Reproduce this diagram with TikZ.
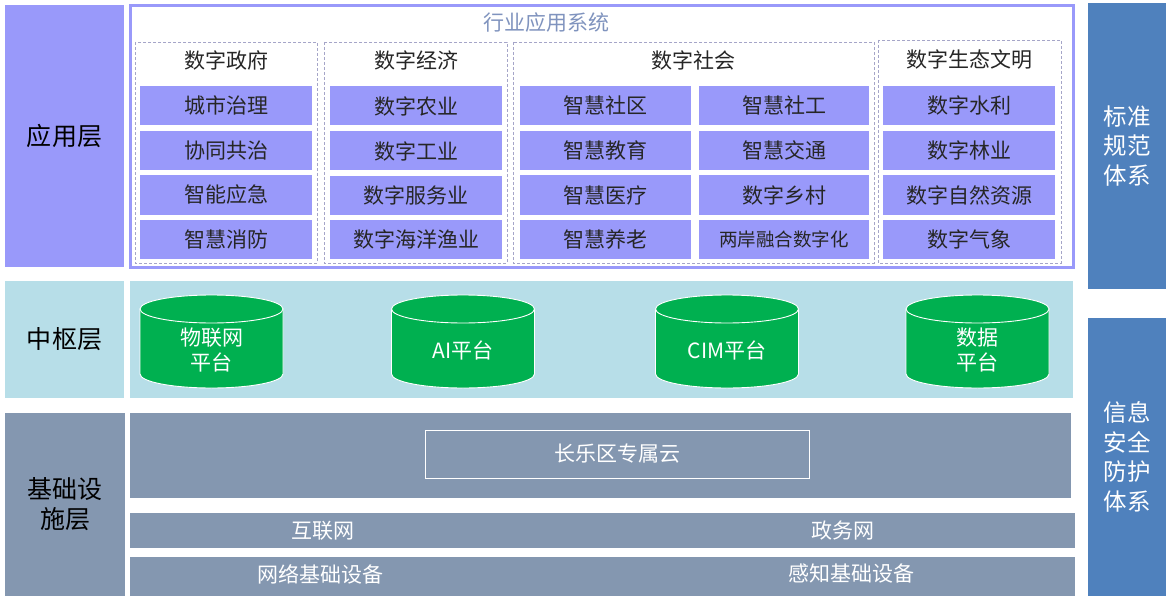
\documentclass[tikz,border=0pt]{standalone}
\usepackage{fontspec}
\setmainfont{Noto Sans CJK SC}
\definecolor{lav}{RGB}{153,153,250}
\definecolor{ltblue}{RGB}{183,222,232}
\definecolor{slate}{RGB}{132,151,176}
\definecolor{sideblue}{RGB}{79,129,189}
\definecolor{cylgreen}{RGB}{0,176,80}
\definecolor{titleblue}{RGB}{127,147,190}
\definecolor{dashgray}{RGB}{165,165,200}
\definecolor{txt}{RGB}{38,38,38}
\begin{document}
\begin{tikzpicture}[x=1pt,y=-1pt,
  lblbox/.style={inner sep=0, align=center, font=\fontsize{25}{30}\selectfont, text=black},
  sidebox/.style={fill=sideblue, inner sep=0, align=center, font=\fontsize{23.5}{29.5}\selectfont, text=white, minimum width=78pt},
  cell/.style={fill=lav, inner sep=0, minimum width=172pt, minimum height=39pt, font=\fontsize{21}{25}\selectfont, text=txt},
  head/.style={inner sep=0, font=\fontsize{21}{25}\selectfont, text=txt},
  grp/.style={draw=dashgray, dashed, dash pattern=on 3pt off 2pt, line width=0.7pt},
  band/.style={fill=slate, inner sep=0},
  wtxt/.style={inner sep=0, align=center, font=\fontsize{21}{25}\selectfont, text=white},
  cyl/.style={fill=cylgreen, draw=white, line width=0.9pt}
]
\useasboundingbox (0,0) rectangle (1166,596);
\fill[white] (0,0) rectangle (1166,596);

% left layer labels
\node[lblbox, fill=lav, minimum width=119pt, minimum height=262pt] (app) at (64.5,136) {应用层};
\node[lblbox, fill=ltblue, minimum width=119pt, minimum height=117pt] (hub) at (64.5,339.5) {中枢层};
\node[lblbox, fill=slate, minimum width=120pt, minimum height=183pt] (infra) at (65,504.5) {基础设\\施层};

% right side
\node[sidebox, minimum height=286pt] (std) at (1127,146) {标准\\规范\\体系};
\node[sidebox, minimum height=278pt] (sec) at (1127,457) {信息\\安全\\防护\\体系};

% application frame
\draw[lav, line width=3pt, fill=white] (130,6) rectangle (1073,267);
\node[inner sep=0, font=\fontsize{21}{25}\selectfont, text=titleblue] (title) at (546,23) {行业应用系统};

\draw[grp] (135,42) rectangle (317,263);
\draw[grp] (324,42) rectangle (507,263);
\draw[grp] (513,42) rectangle (874,263);
\draw[grp] (878,40) rectangle (1061,263);

\node[head] (h1) at (226,60) {数字政府};
\node[head] (h2) at (416,60) {数字经济};
\node[head] (h3) at (693,60) {数字社会};
\node[head] (h4) at (969,60) {数字生态文明};

\node[cell] (a1) at (226,105.5) {城市治理};
\node[cell] (a2) at (226,150.5) {协同共治};
\node[cell] (a3) at (226,195) {智能应急};
\node[cell] (a4) at (226,239) {智慧消防};

\node[cell] (b1) at (416,106) {数字农业};
\node[cell] (b2) at (416,151) {数字工业};
\node[cell] (b3) at (416,195.5) {数字服务业};
\node[cell] (b4) at (416,239.5) {数字海洋渔业};

\node[cell, minimum width=171pt] (c1) at (605.5,105.5) {智慧社区};
\node[cell, minimum width=171pt] (c2) at (605.5,150.5) {智慧教育};
\node[cell, minimum width=171pt] (c3) at (605.5,195) {智慧医疗};
\node[cell, minimum width=171pt] (c4) at (605.5,239.5) {智慧养老};

\node[cell, minimum width=170pt] (d1) at (784,105.5) {智慧社工};
\node[cell, minimum width=170pt] (d2) at (784,150.5) {智慧交通};
\node[cell, minimum width=170pt] (d3) at (784,195) {数字乡村};
\node[cell, minimum width=170pt, font=\fontsize{18.5}{22}\selectfont] (d4) at (784,239.5) {两岸融合数字化};

\node[cell] (e1) at (969,105.5) {数字水利};
\node[cell] (e2) at (969,150.5) {数字林业};
\node[cell] (e3) at (969,195) {数字自然资源};
\node[cell] (e4) at (969,239.5) {数字气象};

% hub layer
\fill[ltblue] (130,281) rectangle (1073,398);
\foreach \cx in {211.5,463,727,977.5}{
  \path[cyl] (\cx-71.5,309) -- (\cx-71.5,374) arc[start angle=180,end angle=360,x radius=71.5pt,y radius=14pt] -- (\cx+71.5,309) -- cycle;
  \path[cyl] (\cx,309) ellipse[x radius=71.5pt,y radius=14pt];
}
\node[wtxt] (p1) at (211.5,350) {物联网\\平台};
\node[wtxt] (p2) at (463,350) {AI平台};
\node[wtxt] (p3) at (727,350) {CIM平台};
\node[wtxt] (p4) at (977.5,350) {数据\\平台};

% infrastructure
\fill[slate] (130,413) rectangle (1071,498);
\node[wtxt, draw=white, line width=0.8pt, minimum width=384pt, minimum height=48pt] (cloud) at (617,454) {长乐区专属云};
\fill[slate] (130,513) rectangle (1075,548);
\fill[slate] (130,557) rectangle (1075,596);
\node[wtxt] (n1) at (323,531) {互联网};
\node[wtxt] (n2) at (843,531) {政务网};
\node[wtxt] (n3) at (320,574) {网络基础设备};
\node[wtxt] (n4) at (851,574) {感知基础设备};
\end{tikzpicture}
\end{document}
